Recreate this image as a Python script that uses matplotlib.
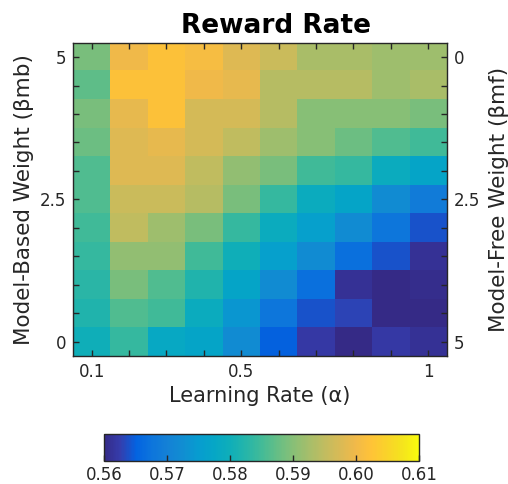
import numpy as np
import matplotlib
matplotlib.use('Agg')
import matplotlib.pyplot as plt
from matplotlib.colors import LinearSegmentedColormap

# Learning rate (columns) and model-based weight (rows, listed top -> bottom)
learning_rates = [0.1, 0.2, 0.3, 0.4, 0.5, 0.6, 0.7, 0.8, 0.9, 1.0]
mb_weights = [5.0, 4.5, 4.0, 3.5, 3.0, 2.5, 2.0, 1.5, 1.0, 0.5, 0.0]
mf_weights = [0.0, 0.5, 1.0, 1.5, 2.0, 2.5, 3.0, 3.5, 4.0, 4.5, 5.0]

reward_b50 = [0.589, 0.600, 0.602, 0.601, 0.598, 0.596, 0.593, 0.593, 0.592, 0.592]
reward_b45 = [0.587, 0.602, 0.602, 0.600, 0.599, 0.594, 0.594, 0.594, 0.592, 0.593]
reward_b40 = [0.589, 0.599, 0.602, 0.597, 0.597, 0.594, 0.590, 0.590, 0.590, 0.589]
reward_b35 = [0.588, 0.598, 0.599, 0.597, 0.595, 0.592, 0.590, 0.588, 0.586, 0.585]
reward_b30 = [0.586, 0.598, 0.598, 0.595, 0.591, 0.589, 0.585, 0.584, 0.579, 0.577]
reward_b25 = [0.586, 0.596, 0.596, 0.594, 0.589, 0.584, 0.579, 0.577, 0.572, 0.569]
reward_b20 = [0.585, 0.595, 0.592, 0.589, 0.584, 0.579, 0.576, 0.572, 0.568, 0.564]
reward_b15 = [0.584, 0.591, 0.591, 0.585, 0.580, 0.576, 0.572, 0.567, 0.564, 0.561]
reward_b10 = [0.583, 0.589, 0.586, 0.582, 0.577, 0.572, 0.567, 0.561, 0.560, 0.5605]
reward_b05 = [0.582, 0.586, 0.585, 0.579, 0.574, 0.568, 0.564, 0.563, 0.560, 0.560]
reward_b00 = [0.580, 0.584, 0.578, 0.577, 0.572, 0.565, 0.562, 0.560, 0.562, 0.561]

cbar_ticks = [0.56, 0.57, 0.58, 0.59, 0.60, 0.61]

# MATLAB parula (subsampled)
parula_pts = [
    (0.2081, 0.1663, 0.5292), (0.2081, 0.2386, 0.6771), (0.0117, 0.3875, 0.8820),
    (0.0498, 0.4586, 0.8641), (0.0779, 0.5040, 0.8384), (0.0641, 0.5570, 0.8240),
    (0.0265, 0.6137, 0.8135), (0.0228, 0.6535, 0.7768), (0.0590, 0.6838, 0.7254),
    (0.1453, 0.7098, 0.6646), (0.2586, 0.7317, 0.5954), (0.3953, 0.7459, 0.5244),
    (0.5300, 0.7491, 0.4661), (0.6473, 0.7456, 0.4188), (0.7525, 0.7384, 0.3768),
    (0.8507, 0.7299, 0.3360), (0.9450, 0.7261, 0.2886), (0.9990, 0.7653, 0.2164),
    (0.9789, 0.8271, 0.1633), (0.9589, 0.8949, 0.1132), (0.9763, 0.9831, 0.0538),
]
parula = LinearSegmentedColormap.from_list('parula', parula_pts)

grid = np.array([reward_b50, reward_b45, reward_b40, reward_b35, reward_b30, reward_b25,
                 reward_b20, reward_b15, reward_b10, reward_b05, reward_b00])

plt.rcParams['font.family'] = 'DejaVu Sans'
fig = plt.figure(figsize=(5.08, 4.84), dpi=100)
ax = fig.add_axes([0.1437, 0.2645, 0.736, 0.647])

dx = learning_rates[1] - learning_rates[0]
dy = mb_weights[0] - mb_weights[1]
im = ax.imshow(grid, cmap=parula, vmin=cbar_ticks[0], vmax=cbar_ticks[-1], aspect='auto',
               interpolation='nearest',
               extent=[learning_rates[0] - dx / 2, learning_rates[-1] + dx / 2,
                       mb_weights[-1] - dy / 2, mb_weights[0] + dy / 2])

frame_col = '#262626'
ax.set_xticks(learning_rates)
ax.set_xticklabels(['0.1', '', '', '', '0.5', '', '', '', '', '1'])
ax.set_yticks(mb_weights)
ax.set_yticklabels(['5', '', '', '', '', '2.5', '', '', '', '', '0'])
ax.tick_params(direction='in', length=4, width=1, top=True, right=False,
               labelsize=12, colors=frame_col, labelcolor='#262626', pad=5)
for s in ax.spines.values():
    s.set_color(frame_col)
    s.set_linewidth(1)
ax.set_xlabel('Learning Rate (α)', fontsize=15, color='#262626', labelpad=4)
ax.set_ylabel('Model-Based Weight (βmb)', fontsize=15.5, color='#262626', labelpad=4)
ax.set_title('Reward Rate', fontsize=19, fontweight='bold', x=0.543, pad=7)

# right axis: model-free weight runs the other way
ax2 = ax.twinx()
ax2.set_ylim(mf_weights[-1] + dy / 2, mf_weights[0] - dy / 2)
ax2.set_yticks(mf_weights)
ax2.set_yticklabels(['0', '', '', '', '', '2.5', '', '', '', '', '5'])
ax2.tick_params(direction='in', length=4, width=1, labelsize=12, colors=frame_col, pad=5)
for s in ax2.spines.values():
    s.set_visible(False)
ax2.set_ylabel('Model-Free Weight (βmf)', fontsize=15.5, color='#262626', labelpad=6)

cax = fig.add_axes([0.2047, 0.0475, 0.620, 0.0558])
cb = fig.colorbar(im, cax=cax, orientation='horizontal', ticks=cbar_ticks)
cb.ax.set_xticklabels(['%.2f' % t for t in cbar_ticks])
cb.ax.tick_params(direction='in', length=4, width=1, labelsize=12, colors=frame_col)
cb.outline.set_edgecolor(frame_col)
cb.outline.set_linewidth(1)

fig.savefig('out.png', dpi=100)
